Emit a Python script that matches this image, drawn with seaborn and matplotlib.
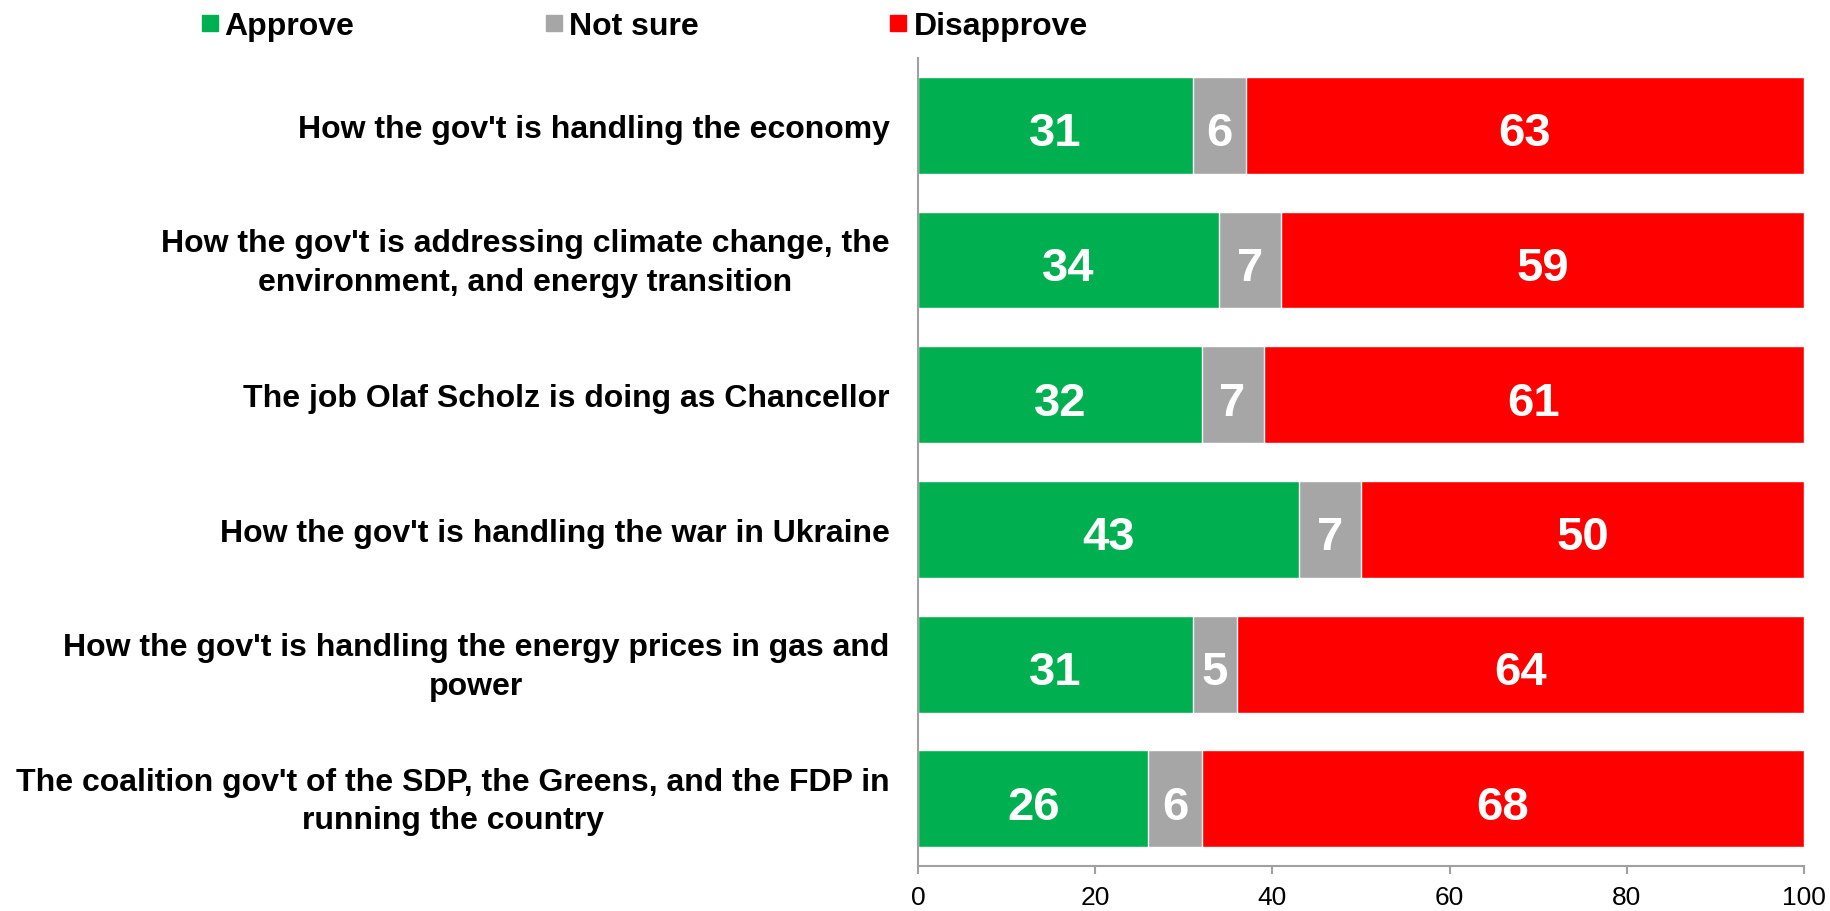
import matplotlib
matplotlib.use("Agg")
import matplotlib.pyplot as plt
from matplotlib.lines import Line2D
from matplotlib.transforms import offset_copy, blended_transform_factory
import seaborn as sns
import pandas as pd

questions = [
    "How the gov't is handling the economy",
    "How the gov't is addressing climate change, the\nenvironment, and energy transition",
    "The job Olaf Scholz is doing as Chancellor",
    "How the gov't is handling the war in Ukraine",
    "How the gov't is handling the energy prices in gas and\npower",
    "The coalition gov't of the SDP, the Greens, and the FDP in\nrunning the country",
]
approve = [31, 34, 32, 43, 31, 26]
not_sure = [6, 7, 7, 7, 5, 6]
disapprove = [63, 59, 61, 50, 64, 68]

series = ["Approve", "Not sure", "Disapprove"]
colors = ["#00B050", "#A6A6A6", "#FF0000"]
xticks = [0, 20, 40, 60, 80, 100]

sns.set_theme(style="white")
plt.rcParams["font.family"] = ["Liberation Sans", "DejaVu Sans"]

df = pd.DataFrame({
    "question": questions,
    "Approve": approve,
    "Not sure": not_sure,
    "Disapprove": disapprove,
})
df["cum_approve"] = df["Approve"]
df["cum_notsure"] = df["Approve"] + df["Not sure"]
df["cum_all"] = df["cum_notsure"] + df["Disapprove"]

fig = plt.figure(figsize=(18.31, 9.12), dpi=100)
ax = fig.add_axes([0.5014, 0.0493, 0.4839, 0.886])

# Stacked bars drawn as overlapping cumulative totals, longest first
for col, color in [("cum_all", colors[2]), ("cum_notsure", colors[1]), ("cum_approve", colors[0])]:
    sns.barplot(data=df, x=col, y="question", orient="h", color=color,
                saturation=1, width=0.72, ax=ax, errorbar=None)

# Segment value labels, baseline placed so digits sit centred in the bar
label_tr = offset_copy(ax.transData, fig=fig, x=0, y=-14.5, units="points")
for i, row in df.iterrows():
    starts = [0, row["cum_approve"], row["cum_notsure"]]
    vals = [row["Approve"], row["Not sure"], row["Disapprove"]]
    for s, v in zip(starts, vals):
        ax.text(s + v / 2, i, f"{v}", ha="center", va="baseline",
                color="white", fontsize=34, fontweight="bold",
                transform=label_tr)

ax.set_xlim(0, 100)
ax.set_ylim(5.5, -0.5)
ax.set_xticks(xticks)
ax.set_xticklabels([str(t) for t in xticks], fontsize=19, color="black")
ax.set_xlabel("")
ax.set_ylabel("")
ax.tick_params(axis="x", bottom=True, length=6, width=1.5, color="#A0A0A0", pad=8)
ax.tick_params(axis="y", left=False, labelleft=False)

# Category labels, right-aligned beside the axis with centred line wrapping
blend = blended_transform_factory(ax.transAxes, ax.transData)
for i, q in enumerate(df["question"]):
    dy = 3.8 if "\n" in q else 0
    tr = offset_copy(blend, fig=fig, x=-20.5, y=dy, units="points")
    ax.text(0, i, q, transform=tr, ha="right", va="center_baseline",
            multialignment="center", linespacing=1.37,
            fontsize=23, fontweight="bold", color="black")

for side in ["top", "right"]:
    ax.spines[side].set_visible(False)
for side in ["left", "bottom"]:
    ax.spines[side].set_color("#A0A0A0")
    ax.spines[side].set_linewidth(1.5)

handles = [Line2D([0], [0], marker="s", linestyle="none", markersize=11,
                  markerfacecolor=c, markeredgecolor=c) for c in colors]
fig.legend(handles, series, loc="upper left", bbox_to_anchor=(0.0935, 1.018),
           ncol=3, frameon=False, handlelength=0.6, handletextpad=0.17,
           columnspacing=5.95, labelcolor="black",
           prop={"weight": "bold", "size": 23})

fig.savefig("out.png", dpi=100)
